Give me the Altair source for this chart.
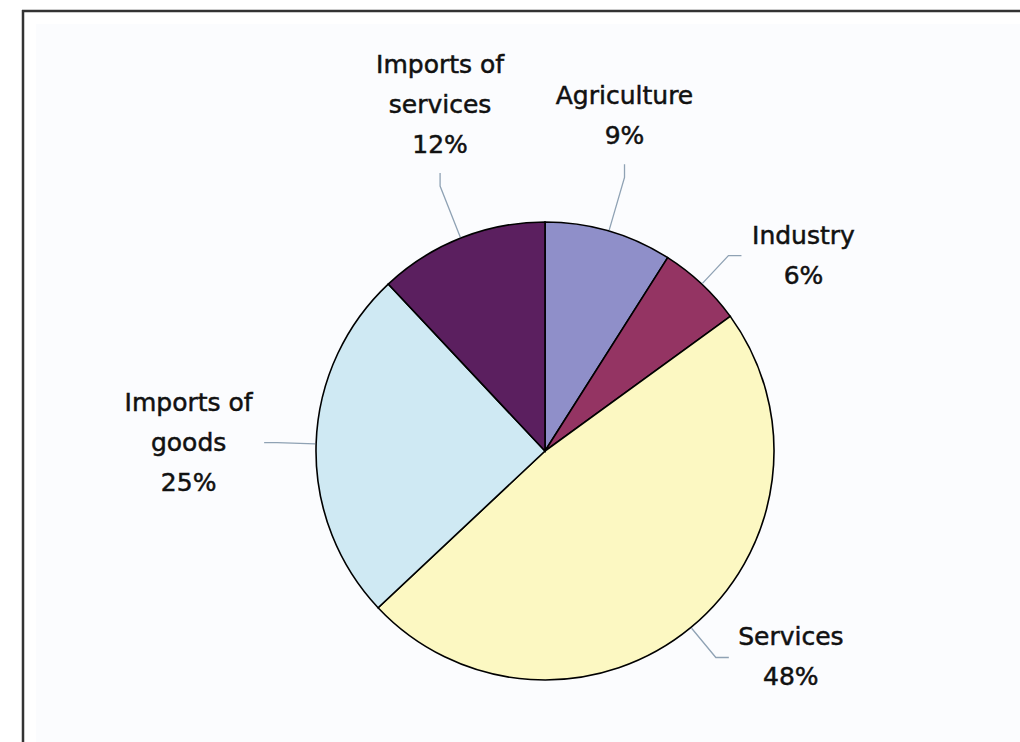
import math
import altair as alt
import pandas as pd

# ---- data -------------------------------------------------------------
categories = ["Agriculture", "Industry", "Services", "Imports of goods", "Imports of services"]
label_names = ["Agriculture", "Industry", "Services", "Imports of\ngoods", "Imports of\nservices"]
shares = [9, 6, 48, 25, 12]
colors = ["#8F8FC9", "#943463", "#FCF8C2", "#CFE9F3", "#5B1F5F"]

# ---- layout constants ---------------------------------------------------
W, H = 1020, 742
CX, CY = 545, 451          # pie centre
R_PIE = 229                # pie radius
R_KNEE_SIDE = 268          # leader knee radius for labels at the sides
R_KNEE_TOP = 285           # leader knee radius for labels above / below
SEG = 13                   # straight leader piece after the knee
GAP = 8                    # gap between leader end and label block
CHAR_W = 13.5              # approx label glyph width
LINE_H = 40                # label line height
BOTTOM_LIMIT = H - 45      # keep label blocks inside the canvas
FONT = "Comic Sans MS, DejaVu Sans"

total = sum(shares)
rows, lead_rows = [], []
cum = 0
for i, (cat, name, v) in enumerate(zip(categories, label_names, shares)):
    cum += v
    mid = 2 * math.pi * (cum - v / 2) / total
    s, c = math.sin(mid), math.cos(mid)
    text = f"{name}\n{v}%"
    lines = text.split("\n")
    n = len(lines)
    hw = max(len(t) for t in lines) * CHAR_W / 2
    hh = n * LINE_H / 2
    ex, ey = CX + (R_PIE + 1) * s, CY - (R_PIE + 1) * c
    if abs(c) > 0.85:
        # label above (c>0) or below (c<0) the pie: vertical leader end
        d = -1 if c > 0 else 1
        kx, ky = CX + R_KNEE_TOP * s, CY - R_KNEE_TOP * c
        end = (kx, ky + d * SEG)
        bx = kx
        by = end[1] + d * (GAP + hh)
    else:
        # label left (s<0) or right (s>0): horizontal leader end
        d = 1 if s > 0 else -1
        kx, ky = CX + R_KNEE_SIDE * s, CY - R_KNEE_SIDE * c
        end = (kx + d * SEG, ky)
        bx = end[0] + d * (GAP + hw)
        by = ky
    if by + hh > BOTTOM_LIMIT:
        by = BOTTOM_LIMIT - hh
    rows.append({
        "category": cat, "share": v, "order": i, "label": text,
        "lx": bx, "ly": by - (n - 1) * LINE_H / 2,
    })
    for step, (x, y) in enumerate([(ex, ey), (kx, ky), end]):
        lead_rows.append({"category": cat, "step": step, "x": x, "y": y})

df = pd.DataFrame(rows)
leads = pd.DataFrame(lead_rows)
dummy = pd.DataFrame({"k": [0]})

# ---- frame -------------------------------------------------------------
inner = alt.Chart(dummy).mark_rect(color="#FBFCFE").encode(
    x=alt.value(36), x2=alt.value(W), y=alt.value(24), y2=alt.value(H)
)
top_rule = alt.Chart(dummy).mark_rule(color="#333333", strokeWidth=2.5).encode(
    x=alt.value(22), x2=alt.value(W), y=alt.value(11), y2=alt.value(11)
)
left_rule = alt.Chart(dummy).mark_rule(color="#333333", strokeWidth=2.5).encode(
    x=alt.value(23), x2=alt.value(23), y=alt.value(10), y2=alt.value(H)
)

# ---- pie ---------------------------------------------------------------
pie = alt.Chart(df).mark_arc(radius=R_PIE, stroke="black", strokeWidth=1.6).encode(
    theta=alt.Theta("share:Q", stack=True),
    order=alt.Order("order:Q"),
    color=alt.Color("category:N", scale=alt.Scale(domain=categories, range=colors), legend=None),
    x=alt.value(CX),
    y=alt.value(CY),
)

leaders = alt.Chart(leads).mark_line(color="#8FA2B4", strokeWidth=1.3).encode(
    x=alt.X("x:Q", scale=None), y=alt.Y("y:Q", scale=None),
    detail="category:N", order="step:Q",
)

labels = alt.Chart(df).mark_text(
    lineBreak="\n", align="center", baseline="middle",
    fontSize=25, lineHeight=LINE_H, font=FONT, color="#111111",
    stroke="#111111", strokeWidth=0.5,
).encode(
    x=alt.X("lx:Q", scale=None), y=alt.Y("ly:Q", scale=None), text="label:N"
)

chart = alt.layer(inner, top_rule, left_rule, pie, leaders, labels).properties(
    width=W, height=H, padding=0, autosize="none", background="white"
).configure_view(stroke=None)

chart.save("out.html", embed_options={"renderer": "svg", "actions": False})
